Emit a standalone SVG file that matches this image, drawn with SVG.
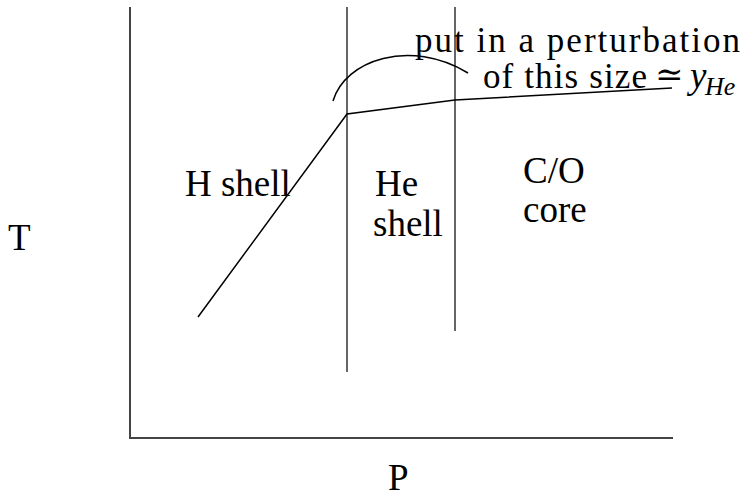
<svg xmlns="http://www.w3.org/2000/svg" width="748" height="497" viewBox="0 0 748 497">
<style>
.ax{stroke:#444;stroke-width:2;fill:none}
.ln{stroke:#333;stroke-width:1.5;fill:none}
.cv{stroke:#000;stroke-width:1.5;fill:none}
.tx{font-family:'Liberation Serif','Noto Serif','Times New Roman','DejaVu Serif',serif;font-size:37px;fill:#000}
</style>
<rect width="748" height="497" fill="#fff"/>
<g id="axes">
<line class="ax" x1="130" y1="7" x2="130" y2="438"/>
<line class="ax" x1="129" y1="438" x2="673" y2="438"/>
</g>
<g id="connectors">
<line class="ln" x1="347" y1="7" x2="347" y2="372"/>
<line class="ln" x1="455" y1="7" x2="455" y2="331"/>
<polyline class="cv" points="198,317 347,114 455,100 672,88"/>
<path class="cv" d="M333,101 C345,60 410,38 468,73"/>
</g>
<g class="tx">
<g id="label-T"><text x="8" y="250">T</text></g>
<g id="label-P"><text x="388" y="490">P</text></g>
<g id="h-shell"><text x="185" y="196">H shell</text></g>
<g id="he-shell">
<text x="375" y="196">He</text>
<text x="373" y="236">shell</text>
</g>
<g id="co-core">
<text x="523" y="183">C/O</text>
<text x="523" y="222">core</text>
</g>
<g id="annotation">
<text x="415" y="52" font-size="35" textLength="325" lengthAdjust="spacing">put in a perturbation</text>
<text x="483" y="88" font-size="35" textLength="164" lengthAdjust="spacing">of this size</text>
<text x="655" y="86" font-size="34">≃</text>
<text x="690" y="88" font-style="italic">y</text>
<text x="705" y="95" font-style="italic" font-size="26">He</text>
</g>
</g>
</svg>
